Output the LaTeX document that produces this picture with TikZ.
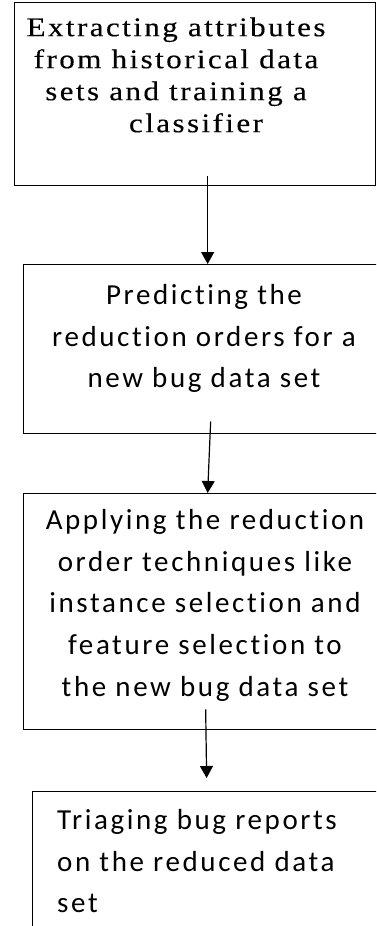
\documentclass[tikz,border=0pt]{standalone}
\usepackage{fontspec}
\setmainfont{Liberation Serif}
\newfontfamily\stepserif[FakeStretch=1.15, LetterSpace=9, FakeBold=0.3]{Liberation Serif}
\newfontfamily\stepsans[LetterSpace=9, Ligatures={NoCommon}]{Carlito}
\usetikzlibrary{arrows.meta}

\begin{document}
\begin{tikzpicture}[x=1pt,y=-1pt,
  box/.style={draw=black, line width=1.3pt, rectangle, inner sep=0pt, anchor=north west},
  seriftext/.style={align=center, inner sep=0pt, anchor=north,
    font=\stepserif\fontsize{27}{32}\selectfont},
  sanstext/.style={inner sep=0pt, font=\stepsans\fontsize{29}{41.8}\selectfont},
  flow/.style={draw=black, line width=1.2pt, -{Triangle[width=13pt,length=12pt]}}]
  \clip (0,0) rectangle (376,926);

  % process boxes (the lower ones run past the page edge)
  \node[box, minimum width=361pt, minimum height=183pt] (b1) at (14,2) {};
  \node[box, minimum width=363pt, minimum height=169pt] (b2) at (23,264) {};
  \node[box, minimum width=364pt, minimum height=236pt] (b3) at (23,493) {};
  \node[box, minimum width=360pt, minimum height=200pt] (b4) at (32,791) {};

  % box texts
  \node[seriftext] (t1) at (176,16) {\rule{0pt}{20pt}Extracting attributes\\
    from historical data\\ sets and training a\\ \hspace*{40pt}classifier};
  \node[sanstext, align=center, anchor=north] (t2) at (204,282)
    {\rule{0pt}{22pt}Predicting the\\ reduction orders for a\\ new bug data set};
  \node[sanstext, align=center, anchor=north] (t3) at (205,507)
    {\rule{0pt}{22pt}Applying the reduction\\ order techniques like\\
     instance selection and\\ feature selection to\\ the new bug data set};
  \node[sanstext, align=left, anchor=north west] (t4) at (57,807)
    {\rule{0pt}{22pt}Triaging bug reports\\ on the reduced data\\ set};

  % connectors
  \draw[flow] ([xshift=12.5pt,yshift=10pt]b1.south) -- ([xshift=2.5pt]b2.north);
  \draw[flow] ([xshift=5.5pt,yshift=13pt]b2.south) -- ([xshift=2pt]b3.north);
  \draw[flow] ([yshift=21pt]b3.south) -- ([xshift=-6pt,yshift=13pt]b4.north);
\end{tikzpicture}
\end{document}
